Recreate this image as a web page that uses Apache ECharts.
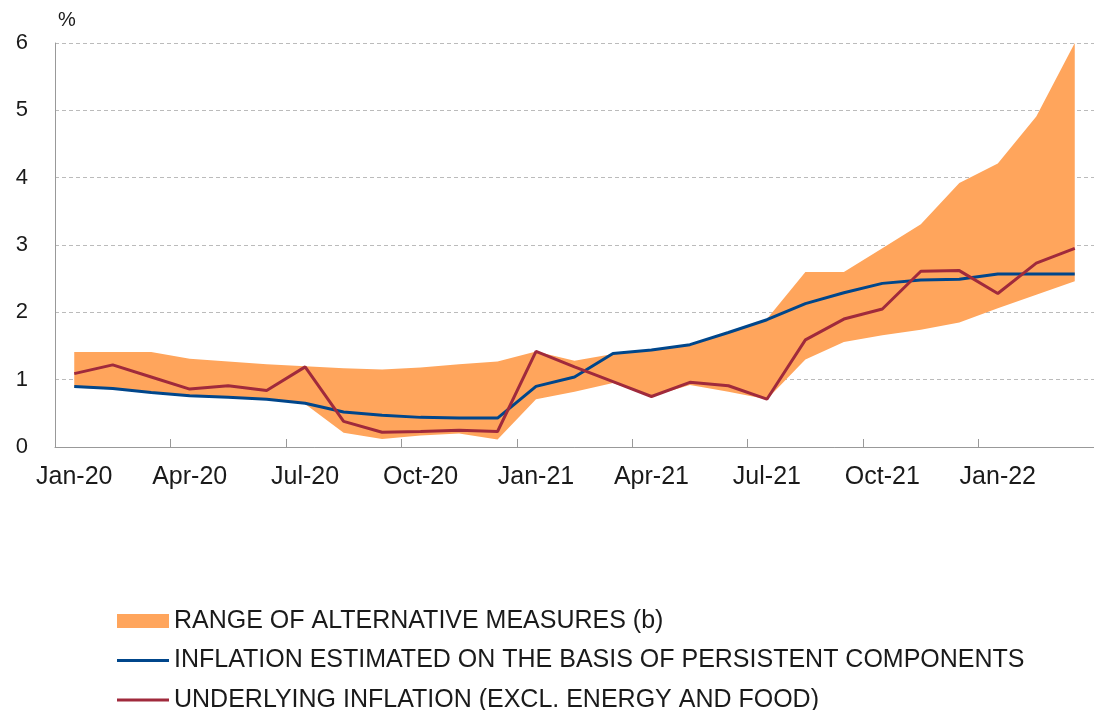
<!DOCTYPE html>
<html>
<head>
<meta charset="utf-8">
<script src="https://cdn.jsdelivr.net/npm/echarts@6/dist/echarts.min.js"></script>
<style>
html,body{margin:0;padding:0;background:#fff;}
#chart{width:1094px;height:710px;}
</style>
</head>
<body>
<div id="chart"></div>
<script>
const categories = ['Jan-20','Feb-20','Mar-20','Apr-20','May-20','Jun-20','Jul-20','Aug-20','Sep-20','Oct-20','Nov-20','Dec-20',
  'Jan-21','Feb-21','Mar-21','Apr-21','May-21','Jun-21','Jul-21','Aug-21','Sep-21','Oct-21','Nov-21','Dec-21',
  'Jan-22','Feb-22','Mar-22'];
const rangeUpper = [1.41,1.41,1.41,1.31,1.27,1.23,1.20,1.17,1.15,1.18,1.23,1.27,1.42,1.28,1.38,1.44,1.52,1.70,1.90,2.60,2.60,2.95,3.31,3.92,4.21,4.91,6.00];
const rangeLower = [0.88,0.86,0.81,0.76,0.74,0.71,0.64,0.21,0.12,0.17,0.20,0.11,0.71,0.82,0.95,0.75,0.92,0.82,0.71,1.30,1.56,1.66,1.74,1.85,2.06,2.26,2.46];
const persistent = [0.90,0.87,0.81,0.76,0.74,0.71,0.65,0.52,0.47,0.44,0.43,0.43,0.90,1.04,1.39,1.44,1.52,1.70,1.89,2.13,2.29,2.43,2.48,2.49,2.57,2.57,2.57];
const underlying = [1.09,1.22,1.04,0.86,0.91,0.84,1.19,0.38,0.22,0.23,0.25,0.23,1.42,1.19,0.97,0.75,0.96,0.91,0.71,1.59,1.90,2.05,2.61,2.62,2.28,2.73,2.95];
const yTicks = [0,1,2,3,4,5,6];

const names = {
  range: 'RANGE OF ALTERNATIVE MEASURES (b)',
  persistent: 'INFLATION ESTIMATED ON THE BASIS OF PERSISTENT COMPONENTS',
  underlying: 'UNDERLYING INFLATION (EXCL. ENERGY AND FOOD)'
};
const rangeWidth = rangeUpper.map((u, i) => +(u - rangeLower[i]).toFixed(3));

// legend line icon: 52x14 box with a 3px bar in the middle
const LINE_ICON = 'path://M0,0 M52,14 M0,5.5 L52,5.5 L52,8.5 L0,8.5 Z';

const FONT = '"Liberation Sans", Arial, sans-serif';
const chart = echarts.init(document.getElementById('chart'), null, {renderer: 'canvas'});
chart.setOption({
  animation: false,
  backgroundColor: '#ffffff',
  textStyle: {fontFamily: FONT},
  grid: {left: 55, top: 43, width: 1045, height: 404, containLabel: false},
  legend: {
    orient: 'vertical',
    left: 117,
    top: 608,
    height: 140,
    padding: 0,
    itemWidth: 52,
    itemHeight: 14,
    itemGap: 13.5,
    textStyle: {fontSize: 25, color: '#1a1a1a', fontFamily: FONT, lineHeight: 26},
    data: [
      {name: names.range, icon: 'rect'},
      {name: names.persistent, icon: LINE_ICON},
      {name: names.underlying, icon: LINE_ICON}
    ]
  },
  xAxis: {
    type: 'category',
    data: categories,
    boundaryGap: true,
    axisLine: {show: true, lineStyle: {color: '#999999', width: 1}},
    axisTick: {show: true, inside: true, length: 8, interval: 2, lineStyle: {color: '#999999'}},
    axisLabel: {interval: 2, fontSize: 25, color: '#1a1a1a', margin: 18, fontFamily: FONT},
    splitLine: {show: false}
  },
  yAxis: {
    type: 'value',
    min: yTicks[0],
    max: yTicks[yTicks.length - 1],
    interval: 1,
    name: '%',
    nameLocation: 'end',
    nameGap: 23,
    nameTextStyle: {fontSize: 20, color: '#1a1a1a', align: 'left', verticalAlign: 'middle', padding: [0, 0, 0, 3], fontFamily: FONT},
    axisLine: {show: true, lineStyle: {color: '#999999', width: 1}},
    axisTick: {show: false},
    axisLabel: {fontSize: 22, color: '#1a1a1a', margin: 27, fontFamily: FONT},
    splitLine: {show: true, lineStyle: {color: '#bbbbbb', type: [4, 3], width: 1}}
  },
  series: [
    {
      name: 'lower',
      type: 'line',
      data: rangeLower,
      stack: 'band',
      symbol: 'none',
      lineStyle: {width: 0, opacity: 0},
      areaStyle: {opacity: 0},
      silent: true,
      z: 1
    },
    {
      name: names.range,
      type: 'line',
      data: rangeWidth,
      stack: 'band',
      symbol: 'none',
      itemStyle: {color: '#FFA55C'},
      lineStyle: {width: 0, opacity: 0},
      areaStyle: {color: '#FFA55C', opacity: 1},
      silent: true,
      z: 1
    },
    {
      name: names.persistent,
      type: 'line',
      data: persistent,
      symbol: 'none',
      itemStyle: {color: '#00468B'},
      lineStyle: {color: '#00468B', width: 3},
      z: 3
    },
    {
      name: names.underlying,
      type: 'line',
      data: underlying,
      symbol: 'none',
      itemStyle: {color: '#A02A3C'},
      lineStyle: {color: '#A02A3C', width: 3},
      z: 4
    }
  ]
});
</script>
</body>
</html>
